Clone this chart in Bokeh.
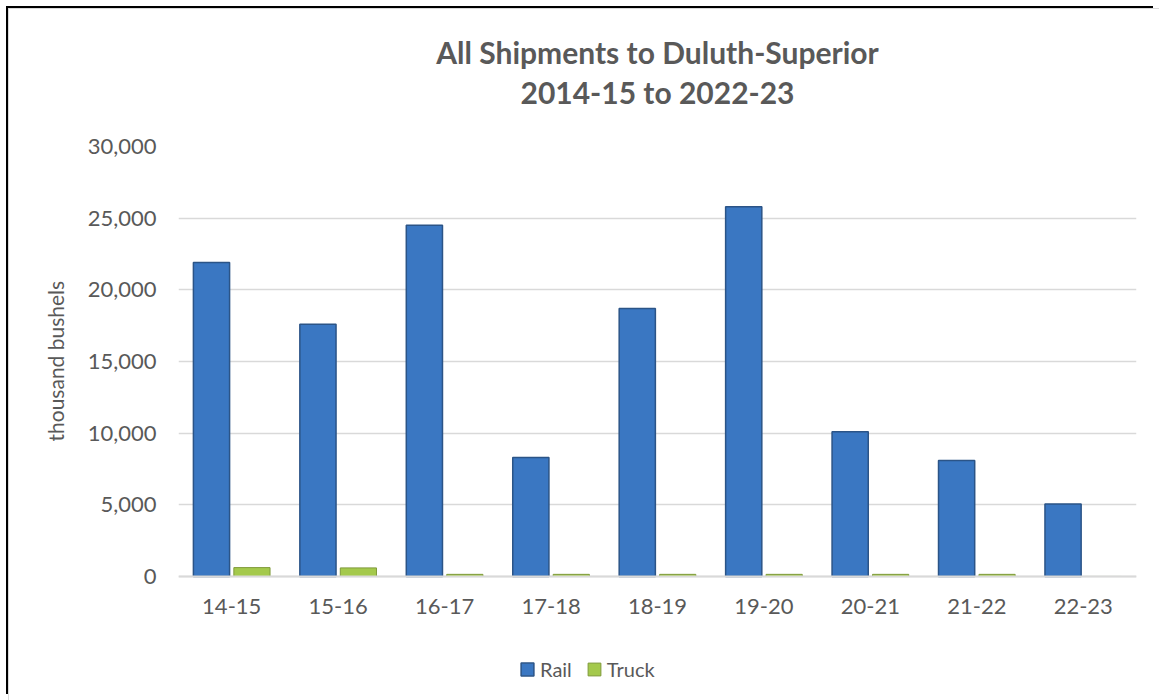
from bokeh.plotting import figure
from bokeh.models import ColumnDataSource, FactorRange, Legend, LegendItem, NumeralTickFormatter, Range1d, Title
from bokeh.transform import dodge
from bokeh.embed import file_html
from bokeh.resources import INLINE

seasons = ["14-15", "15-16", "16-17", "17-18", "18-19", "19-20", "20-21", "21-22", "22-23"]
rail = [21900, 17600, 24500, 8300, 18700, 25800, 10100, 8100, 5050]
truck = [620, 600, 150, 150, 150, 150, 150, 150, 0]

FONT = "Lato"
GREY = "#595959"

src = ColumnDataSource(dict(season=seasons, rail=rail, truck=truck))

# frame spans the plot area plus the space below the zero line (axis labels + legend)
p = figure(x_range=FactorRange(*seasons), y_range=Range1d(-7535, 30000),
           frame_width=958, frame_height=538, output_backend="svg", toolbar_location=None,
           min_border_left=169, min_border_right=23, min_border_top=137, min_border_bottom=16)
p.styles = {"margin-left": "8px", "margin-top": "8px",
            "border-left": "1px solid #d9d9d9", "border-top": "1px solid #d9d9d9",
            "box-shadow": "-4px -4px 0 -2px black"}

r1 = p.vbar(x=dodge("season", -0.19, range=p.x_range), top="rail", width=0.34, source=src,
            fill_color="#3a77c2", line_color="#2b5487", line_width=1.5)
r2 = p.vbar(x=dodge("season", 0.19, range=p.x_range), top="truck", width=0.34, source=src,
            fill_color="#a4c94c", line_color="#7f9a3a", line_width=1)

p.outline_line_color = None
p.xgrid.grid_line_color = None
p.ygrid.grid_line_color = "#d9d9d9"
p.ygrid.grid_line_width = 1.5

p.yaxis.ticker = [0, 5000, 10000, 15000, 20000, 25000, 30000]
p.yaxis.formatter = NumeralTickFormatter(format="0,0")
p.yaxis.axis_line_color = None
p.yaxis.major_tick_line_color = None
p.yaxis.minor_tick_line_color = None
p.yaxis.major_label_text_font = FONT
p.yaxis.major_label_text_font_size = "22px"
p.yaxis.major_label_text_color = GREY
p.yaxis.major_label_standoff = 16

ylab = Title(text="thousand bushels", align="left", offset=243, text_font=FONT, text_font_size="21px",
             text_color=GREY, text_font_style="normal", standoff=33)
p.add_layout(ylab, "left")

p.xaxis.fixed_location = 0
p.xaxis.axis_line_color = "#d9d9d9"
p.xaxis.axis_line_width = 2
p.xaxis.major_tick_line_color = None
p.xaxis.minor_tick_line_color = None
p.xaxis.major_label_text_font = FONT
p.xaxis.major_label_text_font_size = "22px"
p.xaxis.major_label_text_color = GREY
p.xaxis.major_label_standoff = 17

t2 = Title(text="2014-15 to 2022-23", align="center", text_font=FONT, text_font_size="30px",
           text_color=GREY, text_font_style="bold", standoff=73)
t1 = Title(text="All Shipments to Duluth-Superior", align="center", text_font=FONT, text_font_size="30px",
           text_color=GREY, text_font_style="bold", standoff=-69)
p.add_layout(t2, "above")
p.add_layout(t1, "above")

legend = Legend(items=[LegendItem(label="Rail", renderers=[r1]), LegendItem(label="Truck", renderers=[r2])],
                orientation="horizontal", location=(341, 3), border_line_color=None,
                background_fill_alpha=0,
                label_text_font=FONT, label_text_font_size="20px", label_text_color=GREY,
                glyph_width=16, glyph_height=16, spacing=14, label_standoff=5, padding=6, margin=0)
p.add_layout(legend, "center")

open("out.html", "w").write(file_html(p, INLINE))
